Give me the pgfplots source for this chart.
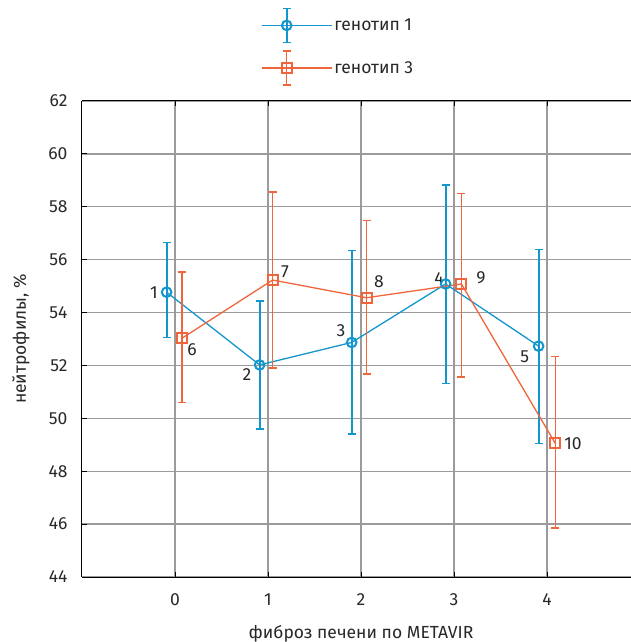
\documentclass[border=0pt]{standalone}
\usepackage{fontspec}
\setmainfont{Fira Sans}
\usepackage{pgfplots}
\pgfplotsset{compat=1.18}
\definecolor{cblue}{RGB}{18,150,205}
\definecolor{corange}{RGB}{240,102,60}
\definecolor{cgrid}{RGB}{155,155,155}
\definecolor{ctext}{RGB}{40,40,40}
\newcommand{\fs}{\fontsize{17.5bp}{20bp}\selectfont}
\begin{document}
\begin{tikzpicture}
\begin{axis}[
  scale only axis,
  width=558bp, height=476bp,
  xmin=-1, xmax=5, ymin=44, ymax=62,
  axis y line*=left,
  xtick={0,1,2,3,4}, ytick={44,46,...,62},
  tick align=inside, major tick length=5bp,
  tick style={black, line width=1bp},
  grid=major,
  major grid style={cgrid, line width=1.3bp},
  axis line style={black, line width=1bp, -},
  /pgf/number format/assume math mode=true,
  ticklabel style={font=\fs, text=ctext},
  yticklabel style={xshift=-11bp},
  xticklabel style={yshift=-13bp},
  label style={font=\fs, text=ctext},
  xlabel={фиброз печени по METAVIR},
  ylabel={нейтрофилы, \%},
  xlabel style={yshift=-13bp},
  ylabel style={yshift=12bp},
  legend style={draw=none, fill=none, font=\fs, text=ctext,
    at={(0.315,1)}, anchor=south west, yshift=13bp, row sep=7bp,
    legend cell align=left},
]
\addplot[cblue, line width=1.3bp, mark=o, mark size=4.8bp,
  mark options={line width=2bp},
  error bars/.cd, y dir=both, y explicit,
  error bar style={line width=1.8bp}, error mark options={rotate=90, mark size=4bp, line width=1.5bp},
  /pgfplots/legend image code/.code={
    \draw[cblue, line width=1.5bp] (0bp,0bp) -- (50bp,0bp);
    \draw[cblue, line width=1.8bp] (25bp,-17bp) -- (25bp,17bp);
    \draw[cblue, line width=1.5bp] (21bp,-17bp) -- (29bp,-17bp) (21bp,17bp) -- (29bp,17bp);
    \draw[cblue, line width=2bp] (25bp,0bp) circle (4.8bp);
    \path (0bp,0bp) -- (70bp,0bp);
  }]
  table[x=x, y=y, y error plus=ep, y error minus=em] {
x      y      ep    em
-0.09  54.77  1.87  1.72
0.91   52.02  2.42  2.42
1.90   52.87  3.47  3.47
2.91   55.08  3.74  3.76
3.91   52.73  3.66  3.68
};
\addlegendentry{генотип 1}
\addplot[corange, line width=1.3bp, mark=square, mark size=5bp,
  mark options={line width=2bp},
  error bars/.cd, y dir=both, y explicit,
  error bar style={line width=1.5bp}, error mark options={rotate=90, mark size=4bp, line width=1.5bp},
  /pgfplots/legend image code/.code={
    \draw[corange, line width=1.5bp] (0bp,0bp) -- (50bp,0bp);
    \draw[corange, line width=1.5bp] (25bp,-17bp) -- (25bp,17bp);
    \draw[corange, line width=1.5bp] (21bp,-17bp) -- (29bp,-17bp) (21bp,17bp) -- (29bp,17bp);
    \draw[corange, line width=2bp] (20bp,-5bp) rectangle (30bp,5bp);
    \path (0bp,0bp) -- (70bp,0bp);
  }]
  table[x=x, y=y, y error plus=ep, y error minus=em] {
x      y      ep    em
0.075  53.03  2.51  2.44
1.05   55.23  3.33  3.32
2.06   54.56  2.93  2.89
3.08   55.08  3.43  3.51
4.09   49.05  3.29  3.19
};
\addlegendentry{генотип 3}
\begin{scope}[every node/.style={font=\fs, text=ctext}]
\node at (axis cs:-0.226,54.74) {1};
\node at (axis cs:0.183,52.58) {6};
\node at (axis cs:0.774,51.67) {2};
\node at (axis cs:1.183,55.53) {7};
\node at (axis cs:1.785,53.30) {3};
\node at (axis cs:2.194,55.15) {8};
\node at (axis cs:2.84,55.30) {4};
\node at (axis cs:3.29,55.30) {9};
\node at (axis cs:3.76,52.32) {5};
\node at (axis cs:4.28,49.03) {10};
\end{scope}
\end{axis}
\pgfresetboundingbox
\path[use as bounding box] ([xshift=-82bp,yshift=-65bp]current axis.south west) rectangle ([xshift=-9bp,yshift=101bp]current axis.north east);
\end{tikzpicture}
\end{document}
